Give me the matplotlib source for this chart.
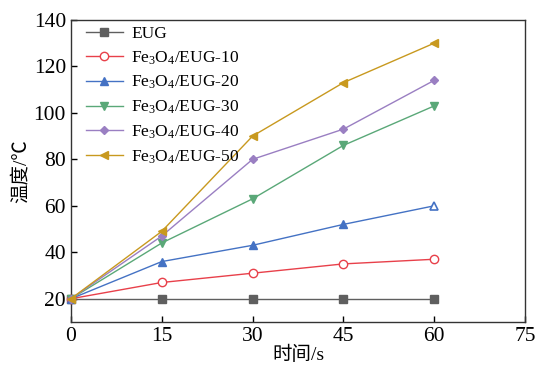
import matplotlib
matplotlib.use("Agg")
import matplotlib.pyplot as plt

plt.rcParams["font.family"] = ["Liberation Serif", "Noto Sans CJK SC"]
plt.rcParams["mathtext.fontset"] = "custom"
plt.rcParams["mathtext.rm"] = "Liberation Serif"

time_s = [0, 15, 30, 45, 60]
eug = [20, 20, 20, 20, 20]
eug10 = [20, 27, 31, 35, 37]
eug20 = [20, 36, 43, 52, 60]
eug30 = [20, 44, 63, 86, 103]
eug40 = [20, 47, 80, 93, 114]
eug50 = [20, 49, 90, 113, 130]

labels = [
    "EUG",
    r"Fe$\mathrm{_3}$O$\mathrm{_4}$/EUG-10",
    r"Fe$\mathrm{_3}$O$\mathrm{_4}$/EUG-20",
    r"Fe$\mathrm{_3}$O$\mathrm{_4}$/EUG-30",
    r"Fe$\mathrm{_3}$O$\mathrm{_4}$/EUG-40",
    r"Fe$\mathrm{_3}$O$\mathrm{_4}$/EUG-50",
]
series = [eug, eug10, eug20, eug30, eug40, eug50]
colors = ["#5f5f5f", "#e8404a", "#4472c4", "#5aa878", "#9a7fc2", "#c8991f"]
markers = ["s", "o", "^", "v", "D", "<"]
sizes = [5.5, 6, 6, 5.5, 4.5, 6]

fig, ax = plt.subplots(figsize=(5.37, 3.68), dpi=100)
fig.subplots_adjust(left=0.132, right=0.978, top=0.946, bottom=0.125)

for y, lab, c, m, s in zip(series, labels, colors, markers, sizes):
    face = "white" if m == "o" else c
    every = [0, 1, 2, 3] if m == "^" else None
    ax.plot(time_s, y, color=c, marker=m, markersize=s, markerfacecolor=face,
            markeredgecolor=c, linewidth=1.0, label=lab, clip_on=False,
            zorder=3, markevery=every)
    if m == "^":
        # last blue point is drawn hollow in the original
        ax.plot(time_s[-1], y[-1], marker=m, markersize=s, markerfacecolor="white",
                markeredgecolor=c, markeredgewidth=1.2, linestyle="none", zorder=4)

ax.set_xlim(0, 75)
ax.set_ylim(10, 140)
ax.set_xticks([0, 15, 30, 45, 60, 75])
ax.set_yticks([20, 40, 60, 80, 100, 120, 140])
ax.tick_params(direction="in", labelsize=15.5, length=4, width=1)
ax.set_xlabel("时间/s", fontsize=14, labelpad=0)
ax.set_ylabel("温度/℃", fontsize=14, labelpad=3)
for sp in ax.spines.values():
    sp.set_linewidth(1)
    sp.set_color("#333333")

ax.legend(loc="upper left", bbox_to_anchor=(0.02, 1.0), frameon=False,
          fontsize=12.5, handlelength=2.1, labelspacing=0.42,
          borderaxespad=0.05, handletextpad=0.5, borderpad=0.3)

fig.savefig("out.png", dpi=100)
